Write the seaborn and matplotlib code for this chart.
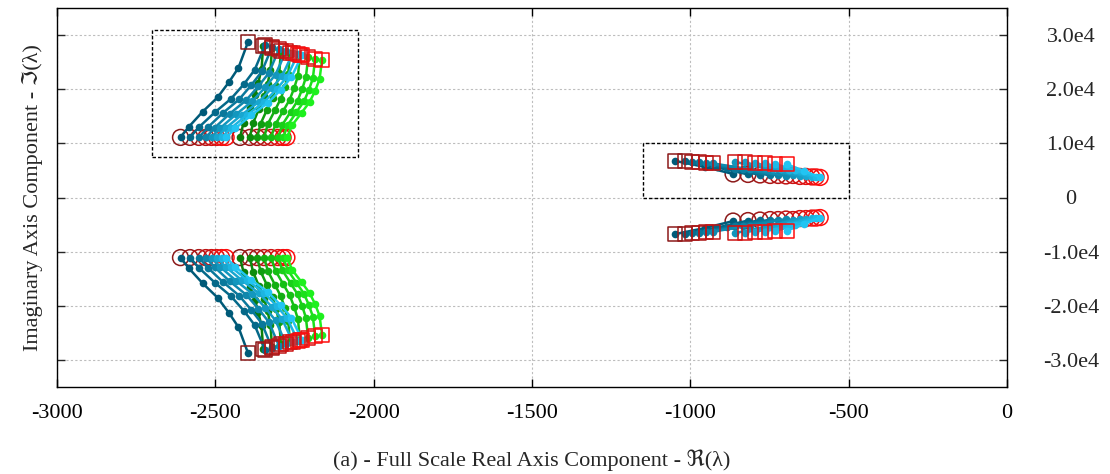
import matplotlib
matplotlib.use("Agg")
import matplotlib.pyplot as plt
from matplotlib.patches import Rectangle
import pandas as pd
import seaborn as sns

# eigenvalue trajectories (upper half-plane), start -> end, Re / Im
blue_re = [
    [-2610, -2584, -2540, -2493, -2457, -2427, -2397],
    [-2580, -2552, -2502, -2450, -2409, -2376, -2343],
    [-2552, -2524, -2476, -2425, -2386, -2353, -2321],
    [-2530, -2502, -2454, -2403, -2364, -2331, -2299],
    [-2512, -2484, -2434, -2383, -2343, -2310, -2277],
    [-2496, -2467, -2416, -2363, -2322, -2289, -2255],
    [-2480, -2451, -2400, -2347, -2306, -2273, -2239],
    [-2466, -2437, -2387, -2334, -2293, -2260, -2226],
]
blue_im = [
    [11100, 13040, 15850, 18490, 21310, 23950, 28700],
    [11100, 12980, 15700, 18260, 20990, 23550, 28150],
    [11100, 12940, 15610, 18110, 20790, 23290, 27800],
    [11100, 12890, 15500, 17950, 20550, 23000, 27400],
    [11100, 12850, 15390, 17780, 20320, 22710, 27000],
    [11100, 12820, 15310, 17650, 20150, 22490, 26700],
    [11100, 12790, 15260, 17570, 20030, 22340, 26500],
    [11100, 12770, 15200, 17480, 19920, 22200, 26300],
]
green_re = [
    [-2422, -2411, -2391, -2375, -2364, -2354, -2349],
    [-2391, -2381, -2362, -2346, -2335, -2326, -2321],
    [-2368, -2357, -2337, -2319, -2308, -2298, -2293],
    [-2346, -2334, -2312, -2293, -2280, -2270, -2264],
    [-2324, -2310, -2286, -2265, -2251, -2239, -2233],
    [-2302, -2288, -2262, -2240, -2226, -2214, -2207],
    [-2286, -2271, -2244, -2220, -2205, -2192, -2185],
    [-2274, -2257, -2227, -2202, -2185, -2171, -2163],
]
green_im = [
    [11100, 13800, 16510, 18870, 21240, 23780, 28000],
    [11100, 13740, 16380, 18690, 21000, 23480, 27600],
    [11100, 13640, 16190, 18410, 20640, 23030, 27000],
    [11100, 13600, 16090, 18280, 20460, 22800, 26700],
    [11100, 13530, 15960, 18090, 20220, 22500, 26300],
    [11100, 13470, 15840, 17910, 19980, 22200, 25900],
    [11100, 13420, 15740, 17770, 19800, 21980, 25600],
    [11100, 13390, 15680, 17680, 19680, 21830, 25400],
]
right_re = [
    [-865, -955, -1048],
    [-818, -915, -1017],
    [-780, -885, -995],
    [-748, -860, -973],
    [-723, -835, -950],
    [-698, -812, -928],
    [-676, -765, -859],
    [-654, -740, -827],
    [-635, -715, -796],
    [-616, -690, -764],
    [-603, -668, -733],
    [-590, -642, -695],
]
right_im = [
    [4352, 5650, 6760],
    [4260, 5550, 6667],
    [4167, 5450, 6575],
    [4074, 5350, 6482],
    [4074, 5300, 6389],
    [3982, 5200, 6297],
    [4074, 5400, 6575],
    [3889, 5250, 6482],
    [3889, 5200, 6389],
    [3797, 5100, 6297],
    [3797, 5050, 6204],
    [3704, 4950, 6112],
]

# zoom boxes (Re range, Im range)
box_re = [(-2700, -2050), (-1150, -500)]
box_im = [(7500, 31000), (0, 10000)]

x_ticks = [-3000, -2500, -2000, -1500, -1000, -500, 0]
y_ticks = [-30000, -20000, -10000, 0, 10000, 20000, 30000]
y_ticklabels = ["-3.0e4", "-2.0e4", "-1.0e4", "0", "1.0e4", "2.0e4", "3.0e4"]


def family_frame(re, im, tag, sign):
    rows = []
    for i, (xs, ys) in enumerate(zip(re, im)):
        for j, (x, y) in enumerate(zip(xs, ys)):
            rows.append({"traj": f"{tag}{i}", "step": j, "re": x, "im": sign * y})
    return pd.DataFrame(rows)


sns.set_style("white")
plt.rcParams["font.family"] = ["Liberation Serif", "DejaVu Serif", "DejaVu Sans"]

fig = plt.figure(figsize=(11.1, 4.74), dpi=100)
ax = fig.add_axes([57 / 1110, 1 - 387 / 474, 950 / 1110, 379 / 474])


def draw_family(re, im, tag, sign, c_lo, c_hi):
    df = family_frame(re, im, tag, sign)
    n = len(re)
    line_pal = sns.blend_palette([c_lo, c_hi], n)
    red_pal = sns.blend_palette(["#8b1a1a", "#ff0d0d"], n)
    order = [f"{tag}{i}" for i in range(n)]
    last = df.groupby("traj")["step"].transform("max")
    starts = df[df["step"] == 0]
    ends = df[df["step"] == last]

    sns.scatterplot(data=starts, x="re", y="im", hue="traj", hue_order=order,
                    palette=red_pal, marker="o", s=130, linewidth=1.1,
                    legend=False, ax=ax, zorder=3)
    pts = ax.collections[-1]
    pts.set_edgecolors(pts.get_facecolors())
    pts.set_facecolors("none")

    sns.lineplot(data=df, x="re", y="im", hue="traj", hue_order=order,
                 palette=line_pal, sort=False, estimator=None, marker="o",
                 markersize=5.5, markeredgewidth=0, linewidth=1.8,
                 legend=False, ax=ax, zorder=4)

    sns.scatterplot(data=ends, x="re", y="im", hue="traj", hue_order=order,
                    palette=red_pal, marker="s", s=100, linewidth=1.1,
                    legend=False, ax=ax, zorder=5)
    pts = ax.collections[-1]
    pts.set_edgecolors(pts.get_facecolors())
    pts.set_facecolors("none")


for sign, t in [(1, "u"), (-1, "l")]:
    draw_family(green_re, green_im, "g" + t, sign, "#0a7d0a", "#1ef01e")
    draw_family(blue_re, blue_im, "b" + t, sign, "#005a78", "#22c4f2")
    draw_family(right_re, right_im, "r" + t, sign, "#005a78", "#22c4f2")

for (x0, x1), (y0, y1) in zip(box_re, box_im):
    ax.add_patch(Rectangle((x0, y0), x1 - x0, y1 - y0, fill=False,
                           edgecolor="black", linestyle=(0, (2.5, 1.5)),
                           linewidth=1.0, zorder=6))

ax.set_xlim(-3000, 0)
ax.set_ylim(-35000, 35000)
ax.set_xticks(x_ticks)
ax.set_xticklabels([str(v) for v in x_ticks])
ax.set_yticks(y_ticks)
ax.set_yticklabels(y_ticklabels)

ax.grid(True, color="#bdbdbd", linestyle=(0, (2, 2)), linewidth=0.8)
ax.set_axisbelow(True)
for sp in ax.spines.values():
    sp.set_color("black")
    sp.set_linewidth(1.0)

ax.tick_params(axis="x", direction="in", length=6, width=1, top=True,
               bottom=True, labelsize=16, pad=12, colors="black")
ax.tick_params(axis="y", direction="in", length=6, width=1, left=True,
               right=True, labelleft=False, labelright=True, labelsize=16,
               pad=46)
for lbl in ax.get_yticklabels():
    lbl.set_horizontalalignment("center")

ax.set_xlabel("(a) - Full Scale Real Axis Component - \u211c(\u03bb)",
              fontsize=16, labelpad=19)
ax.set_ylabel("Imaginary Axis Component - \u2111(\u03bb)", fontsize=16,
              labelpad=10)
ax.yaxis.set_label_position("left")

fig.savefig("out.png", dpi=100)
